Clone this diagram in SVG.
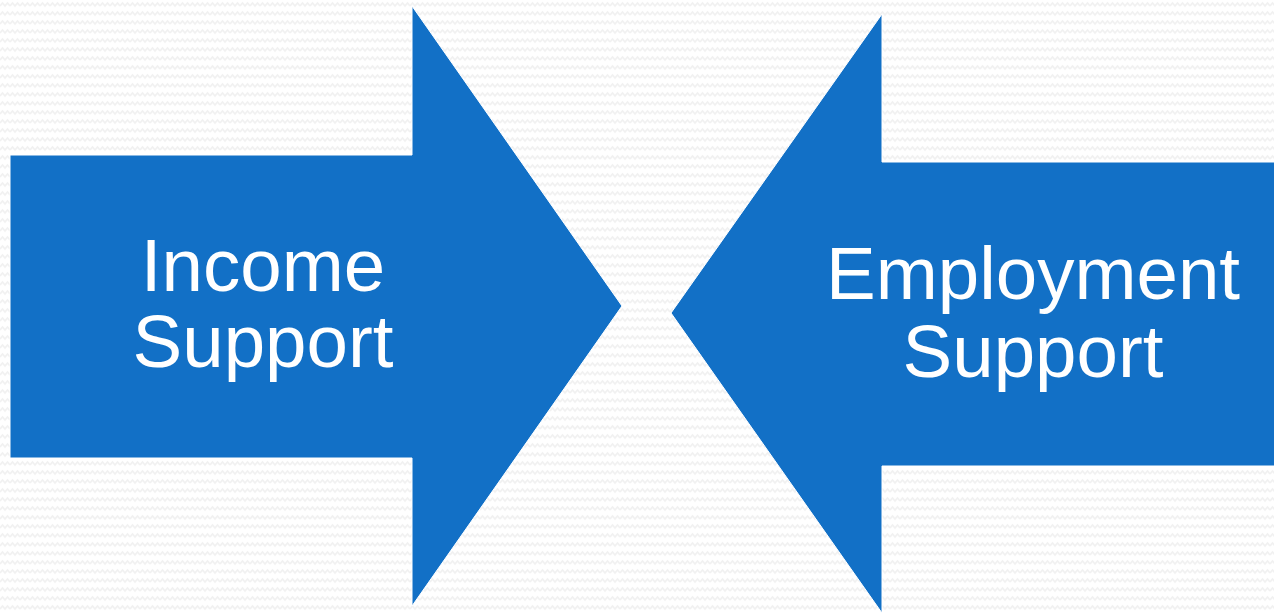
<svg xmlns="http://www.w3.org/2000/svg" width="1274" height="613" viewBox="0 0 1274 613">
  <style>
    .arrow { fill: #1270c6; stroke: #ffffff; stroke-width: 1; }
    .label { font-family: "Liberation Sans", Arial, sans-serif; font-size: 74.5px; fill: #ffffff; text-anchor: middle; }
  </style>
  <defs>
    <!-- faint zigzag background texture -->
    <pattern id="zigzag" width="10" height="9" patternUnits="userSpaceOnUse">
      <rect width="10" height="9" fill="#ffffff"/>
      <polyline points="0,6 2.5,3 5,6 7.5,3 10,6" fill="none" stroke="#f1f1f1" stroke-width="1.6"/>
    </pattern>
  </defs>
  <rect width="1274" height="613" fill="url(#zigzag)"/>

  <g id="income-support">
    <polygon class="arrow" points="10,155 412,155 412,6 622,306 412,606 412,458 10,458"/>
    <text class="label" x="263" y="291">Income</text>
    <text class="label" x="263" y="367">Support</text>
  </g>

  <g id="employment-support">
    <polygon class="arrow" points="1275,162 882,162 882,14 671,313 882,613 882,466 1275,466"/>
    <text class="label" x="1033" y="299">Employment</text>
    <text class="label" x="1033" y="377">Support</text>
  </g>

  <g id="connectors"/>
</svg>
